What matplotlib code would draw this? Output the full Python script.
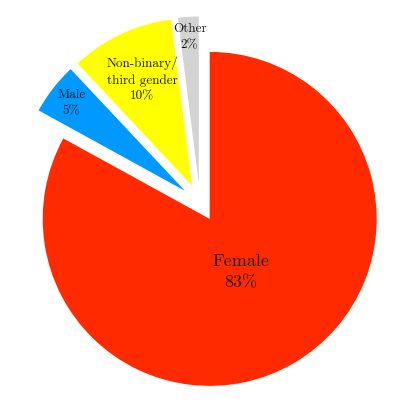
import matplotlib
matplotlib.use("Agg")
import matplotlib.pyplot as plt
import numpy as np

# podaci
kategorije = ["Female", "Male", "Non-binary/\nthird gender", "Other"]
postotci = [83, 5, 10, 2]
boje = ["#ff2a00", "#0099ff", "#ffff00", "#d3d3d3"]
razmak = [0.114, 0.114, 0.114, 0.114]
udaljenost_teksta = [0.37, 0.86, 0.70, 0.88]
velicina_fonta = [13, 9.5, 9.5, 9.5]

plt.rcParams["font.family"] = ["cmr10", "DejaVu Serif"]

fig = plt.figure(figsize=(4.0, 4.05), dpi=100)
ax = fig.add_axes([0, 0, 1, 1])

wedges, _ = ax.pie(postotci, colors=boje, explode=razmak, startangle=90,
                   counterclock=False, radius=1.0,
                   wedgeprops=dict(linewidth=0))

# natpisi unutar isjecaka
for w, kat, p, d, fs in zip(wedges, kategorije, postotci, udaljenost_teksta, velicina_fonta):
    kut = np.deg2rad((w.theta1 + w.theta2) / 2)
    cx, cy = w.center
    x = cx + d * w.r * np.cos(kut)
    y = cy + d * w.r * np.sin(kut)
    ax.text(x, y, f"{kat}\n{p}%", ha="center", va="center",
            fontsize=fs, color="#1a1a1a", linespacing=1.45)

r_px = 167.0
ax.set_xlim(-200 / r_px, 200 / r_px)
ax.set_ylim(-202.5 / r_px, 202.5 / r_px)
ax.axis("off")

fig.savefig("out.png", dpi=100)
